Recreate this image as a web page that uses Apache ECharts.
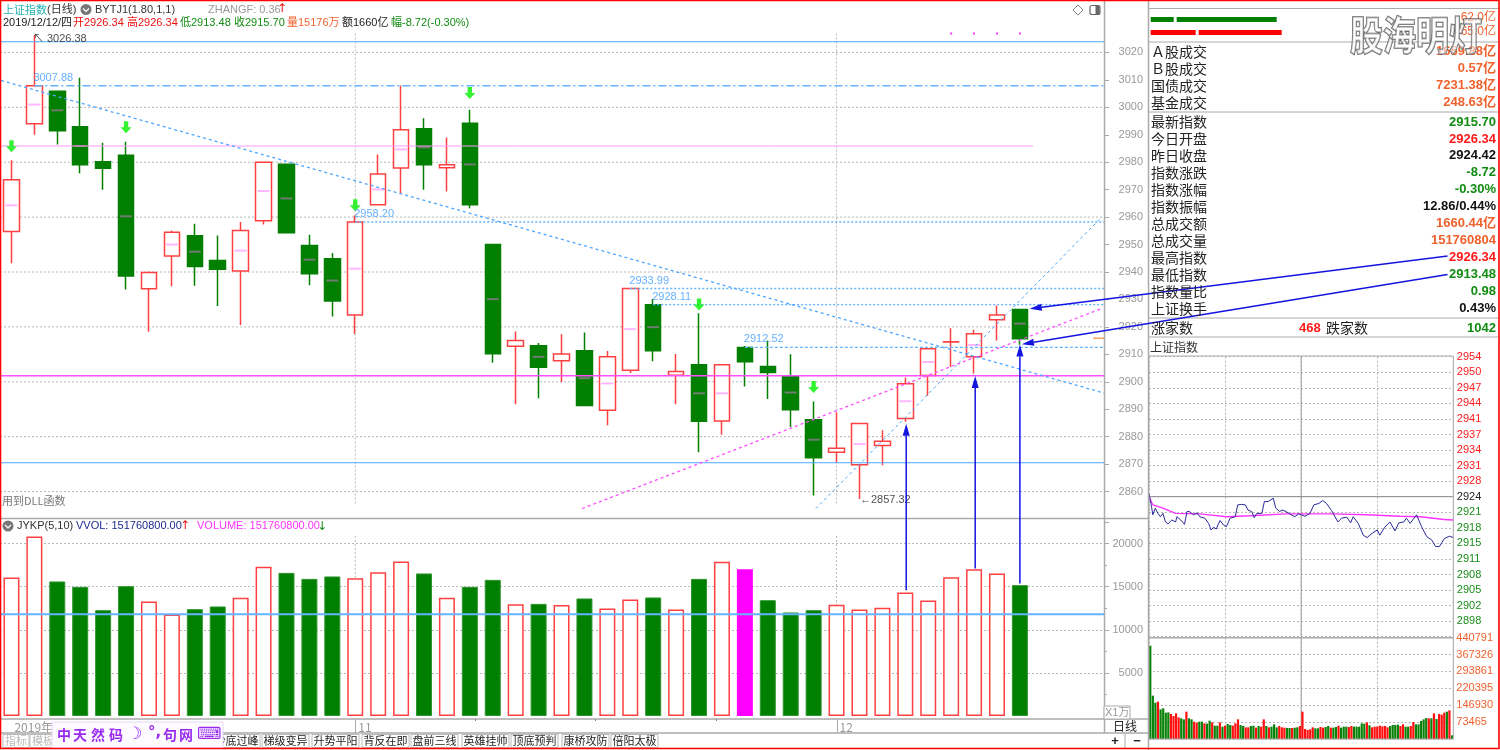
<!DOCTYPE html>
<html>
<head>
    <meta charset="utf-8">
    <title>上证指数 日线</title>
    <script src="https://cdn.jsdelivr.net/npm/echarts@6/dist/echarts.min.js"></script>
    <style>
        html, body { margin: 0; padding: 0; background: #fff; }
        #container { width: 1500px; height: 750px; }
    </style>
</head>
<body>
<div id="container"></div>
<script>
    // 日K数据
    var candleOpen  = [2954.8,2994.0,3005.9,2992.9,2980.2,2982.5,2933.9,2945.8,2953.2,2944.2,2940.4,2958.7,2979.3,2949.7,2944.8,2924.3,2964.5,2977.9,2992.2,2978.0,2994.2,2950.0,2912.9,2913.1,2907.7,2911.3,2889.6,2904.2,2928.11,2902.4,2906.2,2885.7,2912.52,2905.6,2902.1,2886.2,2874.3,2869.8,2876.8,2886.6,2902.3,2914.5,2909.1,2922.6,2926.34];
    var candleClose = [2973.6,3007.88,2991.5,2979.1,2977.8,2938.5,2939.8,2954.5,2942.0,2941.0,2955.1,2980.0,2954.3,2939.4,2929.4,2958.2,2975.7,2991.8,2979.1,2979.1,2964.5,2910.2,2915.0,2905.3,2910.1,2891.4,2909.1,2933.99,2911.3,2903.7,2885.6,2906.2,2907.3,2903.4,2889.8,2872.3,2875.8,2884.8,2878.3,2899.3,2912.0,2914.6,2917.5,2924.3,2915.70];
    var candleLow   = [2943.2,2990.0,2986.5,2976.0,2970.0,2933.6,2918.2,2934.8,2935.0,2927.6,2920.7,2957.3,2954.0,2935.2,2923.8,2917.4,2964.3,2968.5,2970.0,2969.3,2963.2,2906.9,2891.8,2894.0,2899.8,2891.3,2884.2,2903.2,2907.5,2891.8,2874.3,2880.7,2898.3,2893.7,2883.5,2858.6,2870.5,2857.32,2869.6,2885.4,2894.9,2905.4,2903.0,2915.0,2913.48];
    var candleHigh  = [2980.7,3026.38,3006.0,3010.8,2987.1,2987.5,2940.2,2955.1,2957.6,2953.3,2958.2,2980.3,2979.5,2953.6,2946.9,2960.6,2982.8,3008.0,2996.0,2989.0,2999.1,2950.2,2918.3,2914.1,2917.3,2918.0,2911.2,2934.2,2930.2,2910.1,2925.0,2906.5,2913.0,2915.0,2910.0,2892.8,2888.9,2885.0,2882.3,2901.6,2912.3,2919.5,2919.0,2927.8,2926.34];
    var candleMid   = [2964.3,3001,2998.9,2985.9,null,2960.3,null,2950,2947.4,null,2947.8,2969.5,2966.8,2944.5,2936.9,2941.2,2970.1,2984.7,2985.4,null,2979.2,2930.1,null,2909.1,null,2901.3,2899.4,2919.2,2919.9,null,2895.8,2895.8,null,null,2896.1,2878.9,null,2877.3,null,2892.9,2907.2,null,2913.4,null,2921.2];
    var dayVolume   = [16067,20824,15603,14977,12274,15058,13283,11775,12390,12703,13701,17297,16601,15905,16183,15986,16682,17923,16531,13701,14977,15789,12970,13005,12870,13631,12471,13515,13747,12355,15905,17877,17030,13434,12007,12274,12889,12355,12541,14327,13399,16102,17030,16531,15176];

    var monthMarks = {0: '2019年', 15: '11', 36: '12'};
    var slotCount = 48;
    var mainLevels = [3020,3000,2980,2960,2940,2920,2900,2880,2860];

    // 标注
    var downArrowIdx   = [0,5,15,20,30,35];
    var downArrowPrice = [2985.8,2992.7,2964.3,3005.2,2928.2,2898.1];
    var dotIdx = [41,42,43,44];
    var dotPrice = [3026.9,3026.9,3026.9,3026.9];
    var blueTagIdx   = [1,15,27,28,32];
    var blueTagPrice = [3007.88,2958.20,2933.99,2928.11,2912.52];
    var pointerFrom = [[39.04,2824],[42.05,2832],[44.0,2826.5],[62.66,2945.8],[62.66,2939.1]];
    var pointerTo   = [[39.04,2884.7],[42.05,2902.1],[44.0,2913.6],[44.43,2926.6],[44.09,2913.7]];

    // 分时
    var minuteX = [0,1,2,3,5,7,9,11,13,15,18,21,22,25,28,30,32,35,38,40,44,47,49,51,53,56,59,61,64,68,70,73,76,78,81,83,85,89,91,94,98,100,103,105,108,111,115,118,120,123,127,130,134,137,140,144,149,152,156,159,161,165,169,172,176,180,182,186,190,194,197,201,203,206,211,215,219,223,226,229,233,237,240];
    var minutePrice = [2925.1,2923.7,2922.3,2920.6,2922.0,2920.9,2920.2,2920.9,2919.1,2918.7,2919.5,2919.1,2920.2,2919.5,2918.6,2921.3,2921.3,2920.6,2921.0,2920.2,2919.9,2918.8,2917.4,2918.0,2917.6,2919.4,2918.4,2918.1,2919.9,2920.2,2922.7,2922.8,2922.7,2921.6,2921.3,2920.0,2920.9,2920.9,2923.4,2923.4,2924.1,2922.0,2921.3,2921.6,2921.3,2920.8,2920.2,2920.8,2920.6,2920.3,2920.9,2922.7,2923.0,2923.6,2923.0,2921.5,2919.1,2919.9,2920.1,2918.9,2920.2,2918.8,2916.3,2915.8,2916.7,2917.4,2916.3,2918.0,2919.1,2917.2,2918.9,2919.1,2919.9,2918.8,2920.6,2918.1,2916.0,2915.3,2913.9,2913.9,2915.6,2916.1,2915.8];
    var avgX = [0,3,11,21,40,61,80,108,144,172,198,214,233,240];
    var avgPrice = [2924.4,2922.7,2922.0,2920.9,2920.8,2920.2,2920.4,2920.8,2920.8,2920.6,2920.3,2920.2,2919.6,2919.5];
    var minuteVol = [406000,188500,158050,162400,129050,133400,114550,116000,108750,100050,111650,94250,89900,85550,118900,89900,85550,75400,71050,75400,75400,68150,66700,79750,72500,58000,58000,72500,53650,58000,65250,60900,58000,68150,85550,60900,56550,50750,50750,56550,58000,49300,56550,53650,85550,56550,50750,53650,63800,50750,56550,50750,49300,47850,47850,47850,49300,50750,56550,
                     118900,43500,39150,42050,50750,46400,46400,52200,49300,52200,56550,49300,49300,52200,58000,49300,53650,53650,52200,56550,53650,53650,53650,68150,66700,72500,59450,50750,53650,53650,58000,55100,56550,50750,56550,60900,60900,62350,56550,63800,53650,53650,56550,73950,63800,63800,78300,85550,91350,89900,89900,111650,87000,108750,105850,114550,118900,124700,15950];
    // 1 红 0 绿
    var minuteVolUp = [0,0,0,1,0,0,0,0,1,1,1,1,0,0,1,0,0,1,1,0,0,1,0,0,1,0,0,1,0,1,0,0,1,1,1,0,0,1,1,0,0,1,0,1,1,0,1,0,0,0,1,1,1,0,0,1,0,0,1,
                       1,1,1,1,1,0,0,1,1,0,0,1,0,0,1,0,0,0,1,1,0,0,0,0,0,1,0,1,1,1,1,1,1,1,0,0,0,0,1,1,0,0,1,1,0,0,0,0,0,1,0,1,0,1,1,1,0,1,0];
    var rowLabels = ['2954','2950','2947','2944','2941','2937','2934','2931','2928','2924','2921','2918','2915','2911','2908','2905','2902','2898'];
    var rowColors = ['#ff1a1a','#ff1a1a','#ff1a1a','#ff1a1a','#ff1a1a','#ff1a1a','#ff1a1a','#ff1a1a','#ff1a1a','#222','#1a8c1a','#1a8c1a','#1a8c1a','#1a8c1a','#1a8c1a','#1a8c1a','#1a8c1a','#1a8c1a'];
    var volTickLabels = ['','73465','146930','220395','293861','367326','440791'];

    // 右上买卖力道
    var buyBars = [23,100];
    var sellBars = [45,83];

    // 行情表
    var tradeLabels = ['Ａ股成交','Ｂ股成交','国债成交','基金成交'];
    var tradeValues = ['1659.88亿','0.57亿','7231.38亿','248.63亿'];
    var quoteLabels = ['最新指数','今日开盘','昨日收盘','指数涨跌','指数涨幅','指数振幅','总成交额','总成交量','最高指数','最低指数','指数量比','上证换手'];
    var quoteValues = ['2915.70','2926.34','2924.42','-8.72','-0.30%','12.86/0.44%','1660.44亿','151760804','2926.34','2913.48','0.98','0.43%'];
    var quoteColors = ['#128c12','#ff1a1a','#111','#128c12','#128c12','#111','#f0622d','#f0622d','#ff1a1a','#128c12','#128c12','#111'];
    var tabNames = ['梯级变异','升势平阳','背反在即','盘前三线','英雄挂帅','顶底预判','康桥攻防','倍阳太极'];
    var tabLeft  = [262,312,362,411,462,511,562,611];

    var LATIN = '"Liberation Sans","Noto Sans CJK SC",sans-serif';
    var CJK = '"Noto Sans CJK SC","Liberation Sans",sans-serif';
    var UP = '#ff4040', DOWN = '#007f00';
    var GRID_DOT = '#b8b8b8';

    var categories = [];
    for (var i = 0; i < slotCount; i++) categories.push(monthMarks[i] || '');

    var candleData = candleOpen.map(function (o, i) {
        return [o, candleClose[i], candleLow[i], candleHigh[i]];
    });

    // 水平/斜线都走覆盖层坐标
    function seg(name, pts, color, width, type, z, xi, yi) {
        return {
            name: name, type: 'line', data: pts, xAxisIndex: xi === undefined ? 1 : xi, yAxisIndex: yi === undefined ? 1 : yi,
            symbol: 'none', silent: true, z: z || 4,
            lineStyle: {color: color, width: width, type: type || 'solid'}
        };
    }

    var series = [];
    mainLevels.forEach(function (v) {
        series.push(seg('grid' + v, [[-0.5, v], [47.67, v]], GRID_DOT, 1, [2, 2], 1));
    });
    series.push(seg('v11', [[15, 3026.9], [15, 2855]], GRID_DOT, 1, [2, 2], 1));
    series.push(seg('v12', [[36, 3026.9], [36, 2855]], GRID_DOT, 1, [2, 2], 1));
    series.push(seg('v11b', [[15, 20880], [15, 0]], GRID_DOT, 1, [2, 2], 1, 3, 3));
    series.push(seg('v12b', [[36, 20880], [36, 0]], GRID_DOT, 1, [2, 2], 1, 3, 3));

    series.push({
        name: '上证指数', type: 'candlestick', xAxisIndex: 0, yAxisIndex: 0, z: 3, barWidth: 16,
        data: candleData,
        itemStyle: {color: '#fff', color0: DOWN, borderColor: UP, borderColor0: DOWN, borderWidth: 1.5}
    });
    series.push({
        name: 'mid', type: 'scatter', xAxisIndex: 0, yAxisIndex: 0, z: 3, silent: true,
        symbol: 'rect', symbolSize: [12, 2],
        data: candleMid.map(function (v, i) {
            if (v === null) return [i, '-'];
            var up = candleClose[i] >= candleOpen[i];
            return {value: [i, v], itemStyle: {color: up ? '#ffa6ff' : '#8c7c8c'}};
        })
    });

    series.push(seg('top', [[-0.5, 3023.9], [47.67, 3023.9]], '#4da6ff', 1.2));
    series.push(seg('h3007', [[1, 3007.88], [47.67, 3007.88]], '#66b3ff', 1.6, [8, 3, 2, 3]));
    series.push(seg('h2958', [[15, 2958.2], [47.67, 2958.2]], '#66b3ff', 1.4, [2, 2]));
    series.push(seg('h2933', [[27, 2933.99], [47.67, 2933.99]], '#66b3ff', 1.4, [2, 2]));
    series.push(seg('h2928', [[28, 2928.11], [47.67, 2928.11]], '#66b3ff', 1.4, [2, 2]));
    series.push(seg('h2912', [[32, 2912.52], [47.67, 2912.52]], '#66b3ff', 1.2, [3, 2]));
    series.push(seg('pink', [[-0.5, 2985.9], [44.57, 2985.9]], '#ff99ff', 1));
    series.push(seg('magenta', [[-0.5, 2902.2], [47.67, 2902.2]], '#ff4dff', 1.4));
    series.push(seg('low', [[-0.5, 2870.5], [47.67, 2870.5]], '#4da6ff', 1.2));
    series.push(seg('down', [[-0.456, 3009.8], [47.67, 2895.9]], '#4da6ff', 1.3, [3, 3]));
    series.push(seg('upPink', [[24.9, 2853.8], [47.6, 2926.8]], '#ff4dff', 1.3, [3, 3]));
    series.push(seg('upBlue', [[35.1, 2853.8], [47.57, 2960]], '#4da6ff', 1, [3, 3]));
    series.push(seg('last', [[47.2, 2915.9], [47.67, 2915.9]], '#f4a460', 1.5));

    series.push({
        name: 'arrow', type: 'scatter', xAxisIndex: 1, yAxisIndex: 1, z: 5, silent: true,
        symbol: 'path://M3,0H7V6H10L5,12L0,6H3Z', symbolSize: [11, 12],
        itemStyle: {color: '#00f000'},
        data: downArrowIdx.map(function (x, i) { return [x, downArrowPrice[i]]; })
    });
    series.push({
        name: 'dot', type: 'scatter', xAxisIndex: 1, yAxisIndex: 1, z: 5, silent: true,
        symbol: 'rect', symbolSize: 2, itemStyle: {color: '#ff00ff'},
        data: dotIdx.map(function (x, i) { return [x, dotPrice[i]]; })
    });
    series.push({
        name: 'tag', type: 'scatter', xAxisIndex: 1, yAxisIndex: 1, z: 6, silent: true,
        symbolSize: 1, itemStyle: {color: 'transparent'},
        label: {
            show: true, position: 'right', distance: 0, offset: [-1.5, -8],
            color: '#3d9eff', fontSize: 11, fontFamily: LATIN,
            formatter: function (p) { return p.value[1].toFixed(2); }
        },
        data: blueTagIdx.map(function (x, i) { return [x, blueTagPrice[i]]; })
    });
    series.push({
        name: 'extreme', type: 'scatter', xAxisIndex: 1, yAxisIndex: 1, z: 6, silent: true,
        symbolSize: 1, itemStyle: {color: 'transparent'},
        label: {
            show: true, position: 'right', distance: 0,
            color: '#222', fontSize: 11, fontFamily: LATIN
        },
        data: [
            {value: [1, 3026.38], label: {formatter: '↖ 3026.38', offset: [-2, 4]}},
            {value: [37, 2857.32], label: {formatter: '←2857.32', offset: [0, 1]}}
        ]
    });

    // 成交量
    series.push({
        name: 'VOLUME', type: 'bar', xAxisIndex: 2, yAxisIndex: 2, z: 3, barWidth: 16,
        data: dayVolume.map(function (v, i) {
            if (i === 32) return {value: v, itemStyle: {color: '#ff00ff'}};
            if (candleClose[i] >= candleOpen[i]) return {value: v, itemStyle: {color: '#fff', borderColor: UP, borderWidth: 1.5}};
            return {value: v, itemStyle: {color: DOWN, borderColor: '#2e962e', borderWidth: 1}};
        })
    });
    series.push(seg('volLevel', [[-0.5, 11810], [47.67, 11810]], '#66b3ff', 2, 'solid', 4, 3, 3));

    // 箭头跨越窗格，不裁剪
    series.push({
        name: 'pointer', type: 'custom', xAxisIndex: 1, yAxisIndex: 1, z: 30, silent: true,
        data: pointerFrom.map(function (f, i) { return [f[0], f[1], pointerTo[i][0], pointerTo[i][1]]; }),
        renderItem: function (params, api) {
            var a = api.coord([api.value(0), api.value(1)]);
            var b = api.coord([api.value(2), api.value(3)]);
            var dx = b[0] - a[0], dy = b[1] - a[1];
            var len = Math.sqrt(dx * dx + dy * dy);
            var ux = dx / len, uy = dy / len;
            var base = [b[0] - ux * 12, b[1] - uy * 12];
            return {
                type: 'group',
                children: [
                    {type: 'line', shape: {x1: a[0], y1: a[1], x2: base[0], y2: base[1]}, style: {stroke: '#1414e0', lineWidth: 1.5}},
                    {type: 'polygon', shape: {points: [b, [base[0] - uy * 3.5, base[1] + ux * 3.5], [base[0] + uy * 3.5, base[1] - ux * 3.5]]}, style: {fill: '#1414e0'}}
                ]
            };
        }
    });

    // 分时
    series.push({
        name: 'avg', type: 'line', xAxisIndex: 4, yAxisIndex: 5, symbol: 'none', z: 4, silent: true,
        lineStyle: {color: '#ff33ff', width: 1.4},
        data: avgX.map(function (x, i) { return [x, avgPrice[i]]; })
    });
    series.push({
        name: 'minute', type: 'line', xAxisIndex: 4, yAxisIndex: 5, symbol: 'none', z: 5, silent: true,
        lineStyle: {color: '#2a2a9c', width: 1},
        data: minuteX.map(function (x, i) { return [x, minutePrice[i]]; })
    });
    series.push(seg('noon', [[120, 2953.94], [120, 2894.9]], '#999', 1, 'solid', 2, 4, 5));
    series.push(seg('prevClose', [[0, 2924.42], [240, 2924.42]], '#888', 1, 'solid', 2, 4, 5));
    series.push(seg('noonVol', [[120, 440790], [120, 0]], '#999', 1, 'solid', 2, 6, 6));
    series.push({
        name: 'minuteVol', type: 'bar', xAxisIndex: 5, yAxisIndex: 6, z: 3, barWidth: 2.2, silent: true,
        data: minuteVol.map(function (v, i) {
            return {value: v, itemStyle: {color: minuteVolUp[i] ? '#ff1010' : '#0a820a'}};
        })
    });

    // 买卖条
    [['first', 0], ['gap', null], ['second', 1]].forEach(function (s) {
        series.push({
            name: s[0], type: 'bar', stack: 'force', xAxisIndex: 7, yAxisIndex: 7, barWidth: 5, silent: true,
            data: [
                {value: s[1] === null ? 3 : buyBars[s[1]], itemStyle: {color: s[1] === null ? 'transparent' : '#008000'}},
                {value: s[1] === null ? 3 : sellBars[s[1]], itemStyle: {color: s[1] === null ? 'transparent' : '#ff0000'}}
            ]
        });
    });

    // 框线和文字
    var gfx = [];
    function hline(y, x1, x2, color, w) {
        gfx.push({type: 'line', z: 20, silent: true, shape: {x1: x1, y1: y, x2: x2, y2: y}, style: {stroke: color || '#aaa', lineWidth: w || 1}});
    }
    function vline(x, y1, y2, color, w) {
        gfx.push({type: 'line', z: 20, silent: true, shape: {x1: x, y1: y1, x2: x, y2: y2}, style: {stroke: color || '#aaa', lineWidth: w || 1}});
    }
    function txt(x, y, s, color, size, font, align, weight, z) {
        gfx.push({type: 'text', z: z || 60, silent: true, x: x, y: y, style: {
            text: s, fill: color, fontSize: size, fontFamily: font || LATIN, fontWeight: weight || 'normal',
            align: align || 'left', verticalAlign: 'middle'
        }});
    }
    function icon(x, y) {
        gfx.push({type: 'circle', z: 60, silent: true, shape: {cx: x, cy: y, r: 5.5}, style: {fill: '#777'}});
        gfx.push({type: 'polyline', z: 61, silent: true, shape: {points: [[x - 3, y - 1], [x, y + 2], [x + 3, y - 1]]}, style: {stroke: '#fff', lineWidth: 1.2, fill: null}});
    }

    vline(1104.5, 0, 733, '#aaa', 1.5);
    vline(1148.5, 0, 750, '#aaa', 1.5);
    hline(518.5, 0, 1148, '#aaa', 1.5);
    hline(719, 0, 1148, '#aaa', 1.5);
    hline(733, 0, 1148, '#aaa', 1.5);
    vline(1125, 733, 748, '#aaa', 1);
    vline(355.5, 719, 733, '#aaa', 1);
    vline(837.5, 719, 733, '#aaa', 1);
    vline(475.5, 719, 721, '#888', 1);
    vline(595.5, 719, 721, '#888', 1);
    vline(716.5, 719, 721, '#888', 1);

    hline(8.5, 1148, 1498);
    hline(42, 1148, 1498);
    hline(112, 1148, 1498);
    hline(318, 1148, 1498);
    hline(337, 1148, 1498);
    gfx.push({type: 'rect', z: 20, silent: true, shape: {x: 1148.7, y: 356, width: 304.6, height: 383}, style: {fill: null, stroke: '#aaa', lineWidth: 1}});
    hline(637.7, 1148.7, 1453.3, '#aaa', 1.5);

    // 标题
    txt(3, 10, '上证指数', '#22b2b2', 11, CJK);
    txt(47, 10, '(日线)', '#333', 11, LATIN);
    icon(86, 9.5);
    txt(95, 10, 'BYTJ1(1.80,1,1)', '#333', 11);
    txt(208, 9.5, 'ZHANGF: 0.36', '#999', 11);
    txt(277, 9, '↑', '#f01010', 12, 'DejaVu Sans');
    txt(3, 23, '2019/12/12/四', '#222', 11, LATIN);
    txt(73, 23, '开2926.34', '#f01010', 11);
    txt(127, 23, '高2926.34', '#f01010', 11);
    txt(180, 23, '低2913.48', '#128c12', 11);
    txt(234, 23, '收2915.70', '#128c12', 11);
    txt(287, 23, '量15176万', '#f0622d', 11);
    txt(342, 23, '额1660亿', '#222', 11);
    txt(391, 23, '幅-8.72(-0.30%)', '#128c12', 11);
    txt(2, 501, '用到DLL函数', '#777', 11, CJK);

    icon(8, 526);
    txt(17, 526, 'JYKP(5,10)', '#333', 11);
    txt(76, 526, 'VVOL: 151760800.00', '#1c2a8c', 11);
    txt(180, 525.5, '↑', '#f01010', 12, 'DejaVu Sans');
    txt(197, 526, 'VOLUME: 151760800.00', '#ff33ff', 11);
    txt(317, 526.5, '↓', '#128c12', 12, 'DejaVu Sans');

    // 右上角小图标
    gfx.push({type: 'polygon', z: 60, silent: true, shape: {points: [[1078, 5], [1083, 10], [1078, 15], [1073, 10]]}, style: {fill: '#fff', stroke: '#888', lineWidth: 1}});
    gfx.push({type: 'rect', z: 60, silent: true, shape: {x: 1090, y: 5.5, width: 10, height: 9, r: 2}, style: {fill: '#fff', stroke: '#666', lineWidth: 1.2}});
    gfx.push({type: 'rect', z: 60, silent: true, shape: {x: 1095.5, y: 6, width: 4, height: 8}, style: {fill: '#666'}});

    // X1万 + 日线
    gfx.push({type: 'rect', z: 20, silent: true, shape: {x: 1104, y: 706, width: 26, height: 13}, style: {fill: '#fff', stroke: '#aaa', lineWidth: 1}});
    txt(1105, 712.5, 'X1万', '#999', 11);
    txt(1125, 726, '日线', '#222', 12, CJK, 'center');
    txt(1115, 741, '+', '#222', 13, LATIN, 'center', 'bold');
    txt(1137, 741, '−', '#222', 13, LATIN, 'center', 'bold');

    // 行情表
    tradeLabels.forEach(function (s, i) {
        txt(1151, 51.7 + i * 17, s, '#222', 14, CJK);
        txt(1496, 51.7 + i * 17, tradeValues[i], '#f0622d', 13, LATIN, 'right', 'bold');
    });
    quoteLabels.forEach(function (s, i) {
        txt(1151, 122 + i * 16.95, s, '#222', 14, CJK);
        txt(1496, 122 + i * 16.95, quoteValues[i], quoteColors[i], 13, LATIN, 'right', 'bold');
    });
    txt(1496, 18, '62.0亿', '#f0622d', 12, LATIN, 'right');
    txt(1496, 32, '65.0亿', '#f0622d', 12, LATIN, 'right');
    txt(1151, 328, '涨家数', '#222', 14, CJK);
    txt(1299, 328, '468', '#ff1a1a', 13, LATIN, 'left', 'bold');
    txt(1326, 328, '跌家数', '#222', 14, CJK);
    txt(1496, 328, '1042', '#128c12', 13, LATIN, 'right', 'bold');
    txt(1150, 347, '上证指数', '#333', 12, CJK);

    // 底部标签
    function tab(x, w, s, color) {
        gfx.push({type: 'rect', z: 21, silent: true, shape: {x: x, y: 734.5, width: w, height: 13}, style: {fill: '#fff', stroke: '#bbb', lineWidth: 1}});
        txt(x + w / 2, 741, s, color || '#222', 11, CJK, 'center');
    }
    tab(3, 26, '指标', '#bbb');
    tab(30, 26, '模板', '#bbb');
    tab(213, 47, '抄底过峰');
    tabNames.forEach(function (s, i) { tab(tabLeft[i], 47, s); });

    // 输入法状态条
    gfx.push({type: 'rect', z: 70, silent: true, shape: {x: 52, y: 722, width: 171, height: 26}, style: {fill: '#fdfbff', stroke: '#e6d8f5', lineWidth: 1}});
    [[57, '中'], [73, '天'], [91, '然'], [109, '码'], [163, '句'], [179, '网']].forEach(function (c) {
        txt(c[0], 735, c[1], '#9a2cf0', 14, CJK, 'left', 'bold', 71);
    });
    txt(127, 735, '☽', '#9a2cf0', 17, 'DejaVu Sans', 'left', 'bold', 71);
    txt(148, 733, '°,', '#9a2cf0', 15, 'DejaVu Sans', 'left', 'bold', 71);
    txt(197, 735, '⌨', '#9a2cf0', 17, 'DejaVu Sans', 'left', 'normal', 71);

    // 水印 半透明，下面的数字还能看见
    gfx.push({type: 'text', z: 90, silent: true, x: 1350, y: 35, scaleY: 1.2, style: {
        text: '股海明灯', fill: 'rgba(255,255,255,0.55)', stroke: '#666', lineWidth: 1.4,
        fontSize: 33, fontWeight: 'bold', fontFamily: CJK, verticalAlign: 'middle',
        shadowBlur: 2, shadowColor: 'rgba(0,0,0,0.3)', shadowOffsetX: 1, shadowOffsetY: 1
    }});

    // 外框
    gfx.push({type: 'rect', z: 95, silent: true, shape: {x: 0.5, y: 0.5, width: 1498.5, height: 748}, style: {fill: null, stroke: '#ff0000', lineWidth: 1.6}});

    // 轴标签不要千分位
    function plain(v) { return String(v); }
    var greyLabel = {color: '#999', fontSize: 11, fontFamily: LATIN, formatter: plain};
    var dotted = {show: true, lineStyle: {color: GRID_DOT, width: 1, type: [2, 2]}};

    var option = {
        animation: false,
        backgroundColor: '#fff',
        grid: [
            {left: -1, top: 25, width: 1101.12, height: 494},
            {left: -1, top: 25, width: 1105, height: 494},
            {left: -1, top: 522, width: 1101.12, height: 194},
            {left: -1, top: 522, width: 1105, height: 194},
            {left: 1149, top: 356.7, width: 304.3, height: 280},
            {left: 1149, top: 637.7, width: 304.3, height: 101.3},
            {left: 1150.7, top: 13, width: 140, height: 26}
        ],
        xAxis: [
            {gridIndex: 0, type: 'category', data: categories, show: false},
            {gridIndex: 1, type: 'value', min: -0.5, max: 47.67, show: false},
            {gridIndex: 2, type: 'category', data: categories, axisLine: {show: false}, axisTick: {show: false}, splitLine: {show: false},
                axisLabel: {interval: 0, align: 'left', margin: 5, color: '#999', fontSize: 12, fontFamily: CJK, padding: [0, 0, 0, 3]}},
            {gridIndex: 3, type: 'value', min: -0.5, max: 47.67, show: false},
            {gridIndex: 4, type: 'value', min: 0, max: 240, interval: 60, axisLine: {show: false}, axisTick: {show: false}, axisLabel: {show: false}, splitLine: dotted},
            {gridIndex: 5, type: 'category', data: minuteVol.map(function (v, i) { return i; }), show: false},
            {gridIndex: 5, type: 'value', min: 0, max: 240, interval: 60, axisLine: {show: false}, axisTick: {show: false}, axisLabel: {show: false}, splitLine: dotted},
            {gridIndex: 6, type: 'value', min: 0, max: 140, show: false}
        ],
        yAxis: [
            {gridIndex: 0, type: 'value', min: 2850, max: 3030, show: false},
            {gridIndex: 1, type: 'value', min: 2850, max: 3030, interval: 10, position: 'right', axisLine: {show: false, onZero: false},
                axisTick: {show: true, length: 5, lineStyle: {color: '#aaa'}}, splitLine: {show: false},
                axisLabel: Object.assign({align: 'right', margin: 39, showMinLabel: false, showMaxLabel: false}, greyLabel)},
            {gridIndex: 2, type: 'value', min: 0, max: 22500, show: false},
            {gridIndex: 3, type: 'value', min: 0, max: 22500, interval: 5000, position: 'right', axisLine: {show: false, onZero: false},
                axisTick: {show: true, length: 5, lineStyle: {color: '#aaa'}},
                minorTick: {show: true, splitNumber: 2, length: 3, lineStyle: {color: '#aaa'}},
                splitLine: {show: true, showMinLine: false, showMaxLine: false, lineStyle: {color: GRID_DOT, width: 1, type: [2, 2]}},
                axisLabel: Object.assign({align: 'right', margin: 39, showMinLabel: false, showMaxLabel: false}, greyLabel)},
            {gridIndex: 4, type: 'value', min: 0, max: 18, interval: 1, inverse: true, position: 'right', axisLine: {show: false, onZero: false}, axisTick: {show: false},
                splitLine: dotted,
                axisLabel: {margin: 3.5, fontSize: 11, fontFamily: LATIN,
                    color: function (v) { return rowColors[v]; },
                    formatter: function (v) { return rowLabels[v] || ''; }}},
            {gridIndex: 4, type: 'value', min: 2894.9, max: 2953.94, show: false},
            {gridIndex: 5, type: 'value', min: 0, max: 440790, interval: 73465, position: 'right', axisLine: {show: false, onZero: false}, axisTick: {show: false},
                splitLine: dotted,
                axisLabel: {margin: 3, color: '#f0622d', fontSize: 11, fontFamily: LATIN,
                    formatter: function (v) { return volTickLabels[Math.round(v / 73465)]; }}},
            {gridIndex: 6, type: 'category', inverse: true, data: ['买', '卖'], show: false}
        ],
        series: series,
        graphic: {elements: gfx}
    };

    var myChart = echarts.init(document.getElementById('container'), null, {renderer: 'canvas'});
    myChart.setOption(option);
</script>
</body>
</html>
